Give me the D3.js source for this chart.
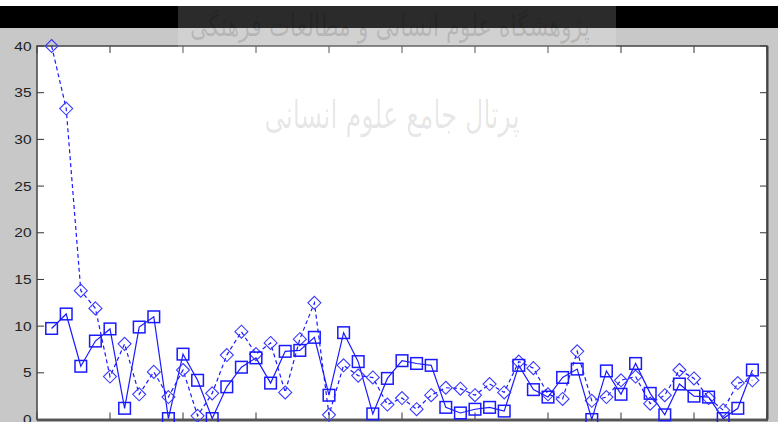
<!DOCTYPE html>
<html><head><meta charset="utf-8">
<script src="https://cdn.jsdelivr.net/npm/d3@7"></script>
<style>html,body{margin:0;padding:0;background:#fff}svg{display:block}</style>
</head><body>
<svg id="c" width="778" height="422"></svg>
<script>
const xValues = d3.range(1, 50);
const seriesSquares = [9.75,11.3,5.7,8.4,9.7,1.2,9.9,11.0,0.1,7.0,4.2,0.1,3.5,5.6,6.6,3.9,7.3,7.4,8.8,2.6,
  9.3,6.2,0.6,4.4,6.3,6.0,5.8,1.3,0.7,1.1,1.3,0.9,5.8,3.2,2.4,4.5,5.4,0.0,5.2,2.7,
  6.0,2.8,0.5,3.8,2.5,2.4,0.1,1.2,5.3];
const seriesDiamonds = [40,33.3,13.8,11.9,4.6,8.1,2.7,5.1,2.4,5.3,0.4,2.8,6.9,9.4,7.0,8.2,2.9,8.6,12.5,0.5,
  5.8,4.7,4.5,1.6,2.3,1.1,2.6,3.4,3.3,2.6,3.8,2.9,6.2,5.5,2.7,2.2,7.3,2.0,2.4,4.2,
  4.6,1.7,2.6,5.3,4.4,2.3,1.0,3.9,4.2];
const yTicks = [0,5,10,15,20,25,30,35,40];
const xTicks = [0,5,10,15,20,25,30,35,40,45,50];
const watermarkTop = "پژوهشگاه علوم انسانی و مطالعات فرهنگی";
const watermarkBottom = "پرتال جامع علوم انسانی";

const svg = d3.select("#c");
const W = 778, H = 422;
const L = 37, R = 767, T = 46, B = 419.5;
const x = d3.scaleLinear().domain([0,50]).range([L,R]);
const y = d3.scaleLinear().domain([0,40]).range([B,T]);
const blue = "#1a1aff";

svg.append("rect").attr("width",W).attr("height",H).attr("fill","#c8c8c8");
svg.append("rect").attr("width",W).attr("height",6).attr("fill","#fff");
svg.append("rect").attr("y",6).attr("width",W).attr("height",22).attr("fill","#000");
svg.append("rect").attr("x",L).attr("y",T).attr("width",R-L).attr("height",B-T).attr("fill","#fff");

// ticks inside
const g = svg.append("g");
const tl = 7;
yTicks.forEach(t => {
  g.append("line").attr("x1",L).attr("x2",L+tl).attr("y1",y(t)).attr("y2",y(t)).attr("stroke","#333");
  g.append("line").attr("x1",R).attr("x2",R-tl).attr("y1",y(t)).attr("y2",y(t)).attr("stroke","#333");
  const s = String(t);
  g.append("text").attr("x",31.5).attr("y",y(t)+4.5).attr("text-anchor","end")
    .attr("font-family","Liberation Sans, Arial, sans-serif").attr("font-size",12.5)
    .attr("textLength",8.6*s.length).attr("lengthAdjust","spacingAndGlyphs")
    .attr("fill","#222").text(s);
});
xTicks.forEach(t => {
  g.append("line").attr("x1",x(t)).attr("x2",x(t)).attr("y1",T).attr("y2",T+tl).attr("stroke","#333");
  g.append("line").attr("x1",x(t)).attr("x2",x(t)).attr("y1",B).attr("y2",B-tl).attr("stroke","#333");
});
// box
svg.append("rect").attr("x",L).attr("y",T).attr("width",R-L).attr("height",B-T)
  .attr("fill","none").attr("stroke","#444").attr("stroke-width",1.5);
svg.append("line").attr("x1",L).attr("x2",R+1).attr("y1",B+0.5).attr("y2",B+0.5).attr("stroke","#555").attr("stroke-width",2.5);
svg.append("line").attr("x1",R+0.5).attr("x2",R+0.5).attr("y1",T).attr("y2",B).attr("stroke","#444").attr("stroke-width",2);

const line = d3.line().x((d,i)=>x(xValues[i])).y(d=>y(d));
const plot = svg.append("g");
plot.append("path").datum(seriesDiamonds).attr("d",line).attr("fill","none")
  .attr("stroke",blue).attr("stroke-width",1.2).attr("stroke-dasharray","4,3");
plot.append("path").datum(seriesSquares).attr("d",line).attr("fill","none")
  .attr("stroke",blue).attr("stroke-width",1.2);
const ds = 6.5;
plot.selectAll(".dm").data(seriesDiamonds).join("path").attr("class","dm")
  .attr("d",(d,i)=>{const cx=x(xValues[i]), cy=y(d);
    return `M${cx},${cy-ds}L${cx+ds},${cy}L${cx},${cy+ds}L${cx-ds},${cy}Z`;})
  .attr("fill","none").attr("stroke","#3a3aff").attr("stroke-width",1.1);
const ss = 5.8;
plot.selectAll(".sq").data(seriesSquares).join("rect").attr("class","sq")
  .attr("x",(d,i)=>x(xValues[i])-ss).attr("y",d=>y(d)-ss)
  .attr("width",2*ss).attr("height",2*ss)
  .attr("fill","none").attr("stroke",blue).attr("stroke-width",1.5);

// watermark overlay
const wm = svg.append("g");
wm.append("rect").attr("x",178).attr("y",0).attr("width",438).attr("height",165)
  .attr("fill","#fff").attr("opacity",0.17);
wm.append("text").attr("x",390).attr("y",36).attr("text-anchor","middle")
  .attr("font-family","DejaVu Sans, sans-serif").attr("font-size",30)
  .attr("textLength",400).attr("lengthAdjust","spacingAndGlyphs")
  .attr("fill","#000").attr("fill-opacity",0.13).attr("direction","rtl").text(watermarkTop);
wm.append("text").attr("x",392).attr("y",128).attr("text-anchor","middle")
  .attr("font-family","DejaVu Sans, sans-serif").attr("font-size",38)
  .attr("textLength",255).attr("lengthAdjust","spacingAndGlyphs")
  .attr("fill","#000").attr("fill-opacity",0.1).attr("direction","rtl").text(watermarkBottom);
</script>
</body></html>
